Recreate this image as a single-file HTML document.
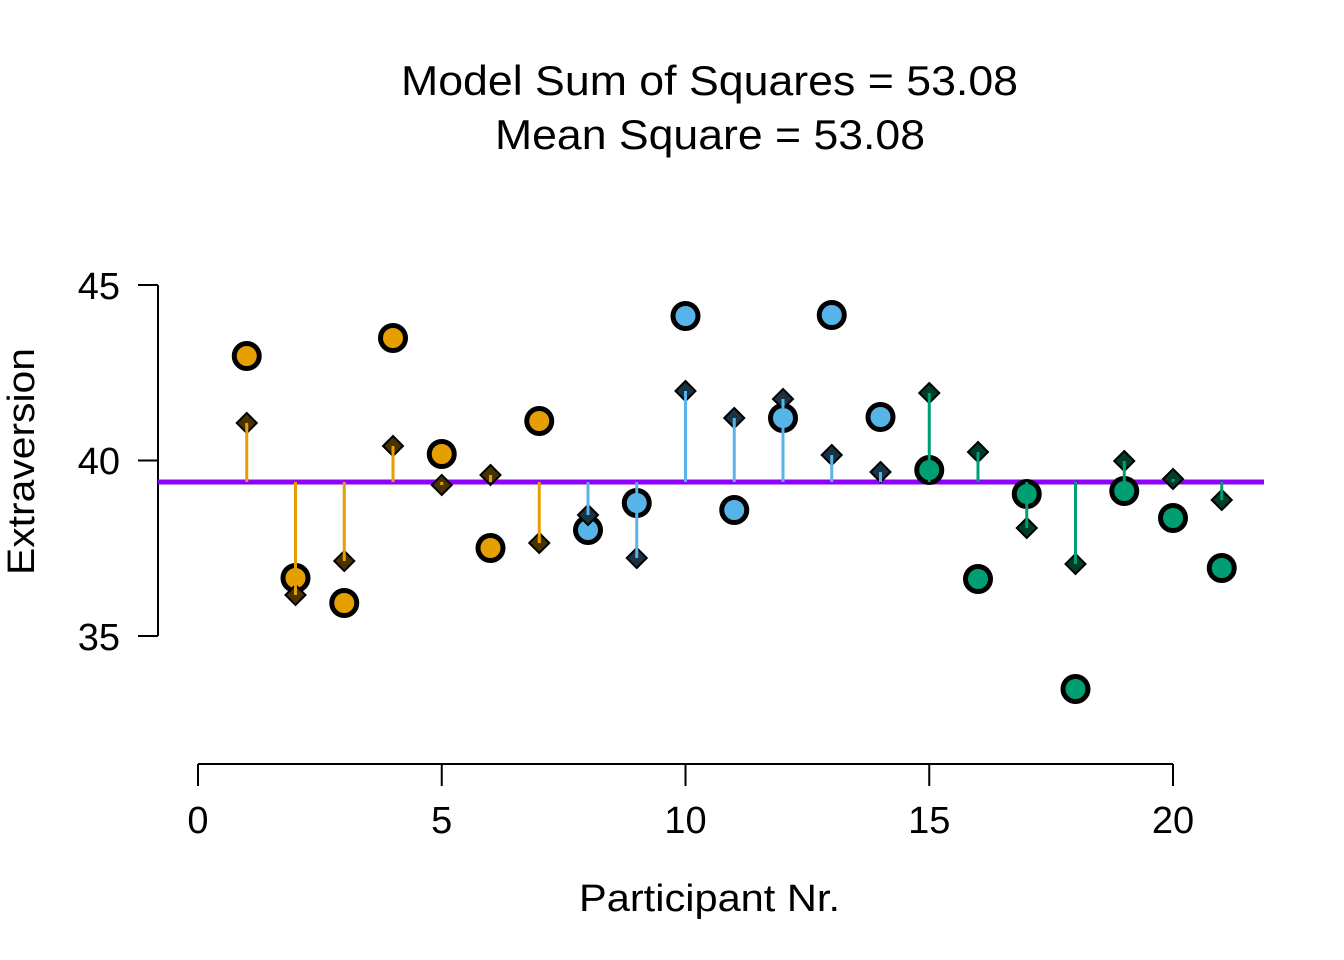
<!DOCTYPE html><html><head><style>body{margin:0;background:#fff}svg{display:block}text{font-family:"Liberation Sans",Arial,sans-serif;fill:#000}</style></head><body>
<svg width="1344" height="960" xmlns="http://www.w3.org/2000/svg">
<text x="401" y="95" font-size="42" textLength="617" lengthAdjust="spacingAndGlyphs">Model Sum of Squares = 53.08</text>
<text x="495" y="149" font-size="42" textLength="430" lengthAdjust="spacingAndGlyphs">Mean Square = 53.08</text>
<g stroke="#000" stroke-width="2" fill="none">
<path d="M158,285V636M138,285H158M138,460.5H158M138,636H158"/>
<path d="M198,764H1173M198,764v22M441.75,764v22M685.5,764v22M929.25,764v22M1173,764v22"/>
</g>
<g font-size="38" text-anchor="end"><text x="120" y="299">45</text><text x="120" y="474">40</text><text x="120" y="650">35</text></g>
<g font-size="38" text-anchor="middle"><text x="198" y="833">0</text><text x="441.75" y="833">5</text><text x="685.5" y="833">10</text><text x="929.25" y="833">15</text><text x="1173" y="833">20</text></g>
<text x="579" y="911" font-size="38" textLength="261" lengthAdjust="spacingAndGlyphs">Participant Nr.</text>
<text transform="translate(34,575) rotate(-90)" font-size="38" textLength="227" lengthAdjust="spacingAndGlyphs">Extraversion</text>
<line x1="158" y1="482" x2="1264" y2="482" stroke="#8F00FF" stroke-width="5"/>
<g id="pts"></g>
</svg>
<script>
var c=[356,578,603,338,454,548,421,530,503,316,510,418,315,417,470,579,494,689,491,518,568];
var d=[423,595,561,446,485,475,543,515,558,391,418,399,455,472,393,452,528,564,461,479,500];
var g=document.getElementById('pts'),h='',L='';
for(var i=0;i<21;i++){var x=198+48.75*(i+1);var col=i<7?'#E69F00':i<14?'#56B4E9':'#009E73';var dk=i<7?'#4a3300':i<14?'#1a3344':'#003d2a';
h+='<circle cx="'+x+'" cy="'+c[i]+'" r="12.5" fill="'+col+'" stroke="#000" stroke-width="5"/>';
L+='<path d="M'+x+','+(d[i]-10)+'l10,10l-10,10l-10,-10z" fill="'+dk+'" stroke="#000" stroke-width="2"/>';
L+='<line x1="'+x+'" y1="482" x2="'+x+'" y2="'+d[i]+'" stroke="'+col+'" stroke-width="3"/>';}
g.innerHTML=h+L;
</script>
</body></html>
